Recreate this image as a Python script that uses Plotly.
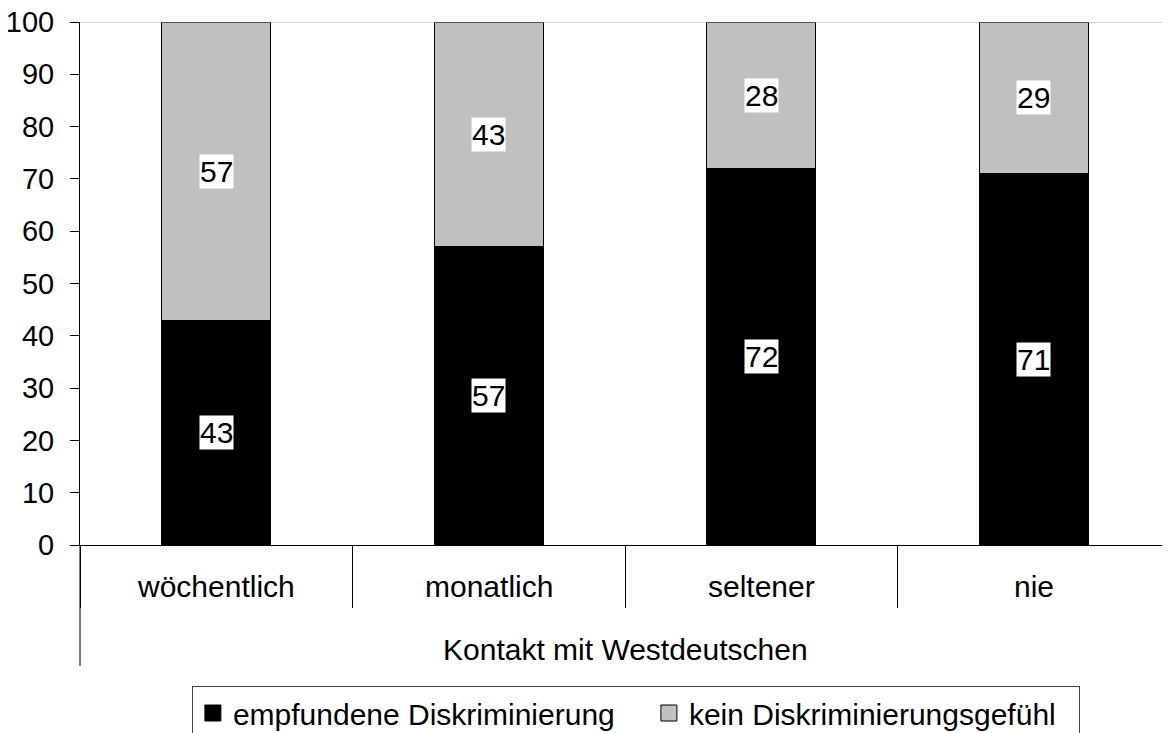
import plotly.graph_objects as go

categories = ["wöchentlich", "monatlich", "seltener", "nie"]
diskriminierung = [43, 57, 72, 71]
kein_gefuehl = [57, 43, 28, 29]
series_names = ["empfundene Diskriminierung", "kein Diskriminierungsgefühl"]
series_colors = ["#000000", "#c0c0c0"]
legend_widths = [411, 385]
group_label = "Kontakt mit Westdeutschen"
y_ticks = list(range(0, 101, 10))

FONT = "Liberation Sans, Arial, sans-serif"
FS = 30

fig = go.Figure()
for vals, name, col in zip([diskriminierung, kein_gefuehl], series_names, series_colors):
    fig.add_trace(go.Bar(
        x=categories, y=vals, name=name, showlegend=False,
        marker=dict(color=col, line=dict(color="#000000", width=1)),
        width=0.4,
    ))
# legend entries with larger square swatches
for name, col, lw in zip(series_names, series_colors, legend_widths):
    fig.add_trace(go.Scatter(
        x=[None], y=[None], mode="markers", name=name, legendwidth=lw,
        marker=dict(symbol="square", size=19, color=col,
                    line=dict(color="#000000", width=1)),
    ))

annotations = []
for cat, a, b in zip(categories, diskriminierung, kein_gefuehl):
    annotations.append(dict(x=cat, y=a / 2, xref="x", yref="y", text=str(a),
                            showarrow=False, bgcolor="white", borderpad=0,
                            font=dict(family=FONT, size=FS, color="black")))
    annotations.append(dict(x=cat, y=a + b / 2, xref="x", yref="y", text=str(b),
                            showarrow=False, bgcolor="white", borderpad=0,
                            font=dict(family=FONT, size=FS, color="black")))
    annotations.append(dict(x=cat, y=-0.08, xref="x", yref="paper", text=cat,
                            showarrow=False, yanchor="middle",
                            font=dict(family=FONT, size=FS, color="black")))
annotations.append(dict(x=0.5, y=-0.199, xref="paper", yref="paper", text=group_label,
                        showarrow=False, yanchor="middle",
                        font=dict(family=FONT, size=FS, color="black")))

shapes = [
    dict(type="line", xref="paper", yref="paper", x0=0, x1=0, y0=0, y1=-0.2314,
         line=dict(color="black", width=1)),
    dict(type="line", xref="paper", yref="y", x0=0, x1=1, y0=100, y1=100,
         line=dict(color="#a0a0a0", width=1)),
]

fig.update_layout(
    barmode="stack",
    width=1162, height=725,
    margin=dict(l=72, r=0, t=14, b=188, autoexpand=False),
    paper_bgcolor="white", plot_bgcolor="white",
    font=dict(family=FONT, size=FS, color="black"),
    showlegend=True,
    legend=dict(orientation="h", x=0.51, xanchor="center", y=-0.2696, yanchor="top",
                bordercolor="#404040", borderwidth=1,
                font=dict(family=FONT, size=FS, color="black"),
                traceorder="normal", itemsizing="trace"),
    annotations=annotations,
    shapes=shapes,
)
fig.update_xaxes(type="category", range=[-0.5, 3.5], tickson="boundaries",
                 ticks="outside", ticklen=62, tickcolor="black", tickwidth=1,
                 showticklabels=False, showline=True, linecolor="black", linewidth=1,
                 showgrid=False, zeroline=False, fixedrange=True, automargin=False)
fig.update_yaxes(range=[0, 100], tickvals=y_ticks, ticks="outside", ticklen=9,
                 tickcolor="black", tickwidth=1, showline=True, linecolor="black",
                 linewidth=1, showgrid=False, zeroline=False, automargin=False,
                 ticklabeloverflow="allow",
                 tickfont=dict(family=FONT, size=29, color="black"), ticklabelstandoff=10)

fig.write_html("out.html")
